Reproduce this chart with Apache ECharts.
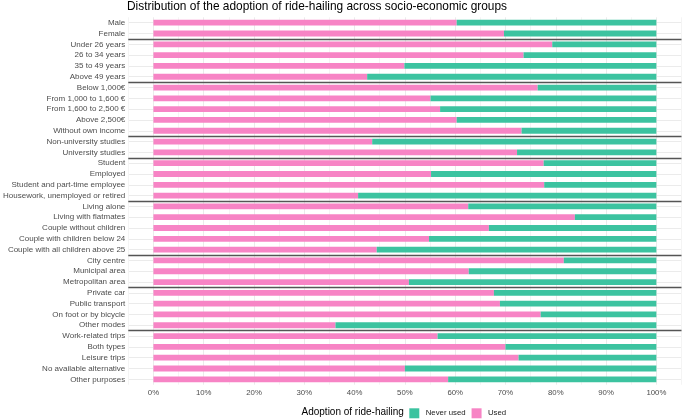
<!DOCTYPE html>
<html>
<head>
<meta charset="utf-8">
<script src="https://cdn.jsdelivr.net/npm/echarts@6/dist/echarts.min.js"></script>
<style>
html,body{margin:0;padding:0;background:#fff;}
#chart{width:685px;height:420px;}
</style>
</head>
<body>
<div id="chart"></div>
<script>
const categories = [
  "Male","Female",
  "Under 26 years","26 to 34 years","35 to 49 years","Above 49 years",
  "Below 1,000€","From 1,000 to 1,600 €","From 1,600 to 2,500 €","Above 2,500€","Without own income",
  "Non-university studies","University studies",
  "Student","Employed","Student and part-time employee","Housework, unemployed or retired",
  "Living alone","Living with flatmates","Couple without children","Couple with children below 24","Couple with all children above 25",
  "City centre","Municipal area","Metropolitan area",
  "Private car","Public transport","On foot or by bicycle","Other modes",
  "Work-related trips","Both types","Leisure trips","No available alternative","Other purposes"
];
const groupSizes = [2,4,5,2,4,5,3,4,5];
const usedValues = [
  60.3,69.7,
  79.3,73.6,49.9,42.5,
  76.4,55.1,57.0,60.3,73.2,
  43.5,72.3,
  77.6,55.2,77.7,40.7,
  62.6,83.8,66.7,54.8,44.4,
  81.6,62.7,50.8,
  67.7,68.9,77.0,36.2,
  56.5,70.0,72.6,50.0,58.6
];
const neverUsedValues = [
  39.7,30.3,
  20.7,26.4,50.1,57.5,
  23.6,44.9,43.0,39.7,26.8,
  56.5,27.7,
  22.4,44.8,22.3,59.3,
  37.4,16.2,33.3,45.2,55.6,
  18.4,37.3,49.2,
  32.3,31.1,23.0,63.8,
  43.5,30.0,27.4,50.0,41.4
];
const xTickLabels = [0,10,20,30,40,50,60,70,80,90,100];

// separator positions between groups (row index units)
const separators = [];
(function(){ let c = 0; for (let i = 0; i < groupSizes.length - 1; i++) { c += groupSizes[i]; separators.push(c - 0.5); } })();

const FONT = "Liberation Sans";
const chart = echarts.init(document.getElementById('chart'), null, {renderer:'canvas'});
chart.setOption({
  animation: false,
  textStyle: {fontFamily: FONT},
  title: [
    {text: "Distribution of the adoption of ride-hailing across socio-economic groups",
     left: 127, top: 1, padding: 0,
     textStyle: {fontFamily: FONT, fontSize: 11.9, fontWeight: 'normal', color: '#000'}},
    {text: "Adoption of ride-hailing", left: 301.5, top: 407.5, padding: 0,
     textStyle: {fontFamily: FONT, fontSize: 10, fontWeight: 'normal', color: '#000'}}
  ],
  legend: {
    data: ['Never used','Used'],
    left: 409.3, top: 408.3, padding: 0,
    itemWidth: 10, itemHeight: 10, itemGap: 6,
    icon: 'rect',
    textStyle: {fontFamily: FONT, fontSize: 7.8, color: '#1a1a1a', padding: [0, 0, 0, 1.4]},
    selectedMode: false
  },
  grid: {left: 126.3, right: 3.5, top: 17.3, bottom: 35.3, containLabel: false},
  xAxis: {
    type: 'value', min: -5, max: 105, interval: 5,
    axisLine: {show: false}, axisTick: {show: false},
    axisLabel: {
      margin: 4, fontSize: 7.8, color: '#4d4d4d', fontFamily: FONT,
      formatter: function (v) {
        const r = Math.round(v);
        return xTickLabels.indexOf(r) >= 0 && Math.abs(v - r) < 1e-6 ? r + '%' : '';
      }
    },
    splitLine: {show: true, lineStyle: {color: ['#f4f4f4', '#ebebeb'], width: 1}}
  },
  yAxis: [
    {
      type: 'category', data: categories, inverse: true,
      axisLine: {show: false}, axisTick: {show: false},
      axisLabel: {margin: 3, fontSize: 8, color: '#4d4d4d', fontFamily: FONT},
      splitLine: {show: false}
    },
    {
      type: 'value', inverse: true, min: -0.5, max: categories.length - 0.5, interval: 0.5,
      position: 'left',
      axisLine: {show: false}, axisTick: {show: false}, axisLabel: {show: false},
      splitLine: {show: true, lineStyle: {color: ['rgba(0,0,0,0)', '#ebebeb'], width: 1}}
    }
  ],
  series: [
    {
      name: 'Used', type: 'bar', stack: 'total', xAxisIndex: 0, yAxisIndex: 0,
      data: usedValues, barWidth: 5.8,
      itemStyle: {color: '#f784c5'},
      emphasis: {disabled: true}
    },
    {
      name: 'Never used', type: 'bar', stack: 'total', xAxisIndex: 0, yAxisIndex: 0,
      data: neverUsedValues, barWidth: 5.8,
      itemStyle: {color: '#3cc3a0'},
      emphasis: {disabled: true}
    },
    {
      name: 'separators', type: 'line', xAxisIndex: 0, yAxisIndex: 1,
      data: [], silent: true,
      markLine: {
        silent: true, symbol: ['none','none'],
        label: {show: false},
        lineStyle: {color: '#555555', width: 1.3, type: 'solid'},
        emphasis: {disabled: true},
        data: separators.map(function (s) { return {yAxis: s}; })
      }
    }
  ]
});
</script>
</body>
</html>
